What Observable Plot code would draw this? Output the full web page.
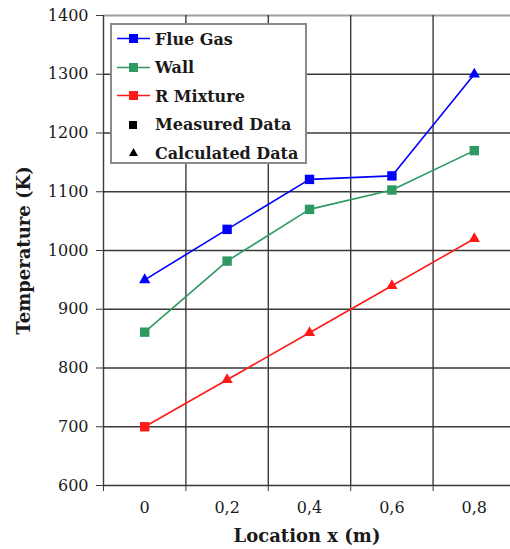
<!DOCTYPE html>
<html>
<head>
<meta charset="utf-8">
<script src="https://cdn.jsdelivr.net/npm/d3@7"></script>
<script src="https://cdn.jsdelivr.net/npm/@observablehq/plot@0.6"></script>
<style>
  html, body { margin: 0; padding: 0; background: white; }
  #wrap { position: relative; width: 510px; height: 549px; overflow: hidden; }
  g[aria-label="x-axis label"] text, g[aria-label="y-axis label"] text { font-weight: bold; font-size: 18px; }
  #legend { position: absolute; left: 110px; top: 23px; width: 193px; height: 137px;
    border: 2px solid #8a8a8a; background: white; font-family: 'DejaVu Serif', serif; font-weight: bold; font-size: 16px; color: #1a1a1a; }
  .item { position: absolute; left: 5px; height: 20px; display: flex; align-items: center; white-space: nowrap; }
  .item svg { margin-right: 5px; }
</style>
</head>
<body>
<div id="wrap"></div>
<script>
// x locations (m)
const locations = [0, 0.2, 0.4, 0.6, 0.8];
// temperatures (K)
const flueGas   = [950, 1036, 1121, 1127, 1300];
const flueKind  = ["calc", "meas", "meas", "meas", "calc"];
const wall      = [861, 982, 1070, 1103, 1170];
const wallKind  = ["meas", "meas", "meas", "meas", "meas"];
const rMixture  = [700, 780, 860, 940, 1020];
const rKind     = ["meas", "calc", "calc", "calc", "calc"];
const seriesNames  = ["Flue Gas", "Wall", "R Mixture"];
const seriesColors = ["#0000ff", "#2e9960", "#ff1a1a"];
const yTicks = [600, 700, 800, 900, 1000, 1100, 1200, 1300, 1400];
const xTickLabels = ["0", "0,2", "0,4", "0,6", "0,8"];

const rows = [];
[[flueGas, flueKind], [wall, wallKind], [rMixture, rKind]].forEach(([vals, kinds], i) => {
  vals.forEach((v, j) => rows.push({series: seriesNames[i], x: locations[j], y: v, kind: kinds[j]}));
});
const step = locations[1] - locations[0];
const bounds = locations.map(v => v - step / 2).concat([locations[locations.length - 1] + step / 2]);

const chart = Plot.plot({
  width: 510, height: 549,
  marginLeft: 103, marginRight: 0, marginTop: 15, marginBottom: 64,
  style: {fontFamily: "'DejaVu Serif', serif", fontSize: "16px", color: "#1a1a1a", background: "white", overflow: "hidden"},
  x: {domain: [bounds[0], bounds[bounds.length - 1]], range: [103, 515]},
  y: {domain: [600, 1400]},
  color: {domain: seriesNames, range: seriesColors},
  marks: [
    Plot.ruleY(yTicks.filter(d => d < 1400), {stroke: "#3a3a3a", strokeWidth: 1.4}),
    Plot.ruleY([1400], {stroke: "#a0a0a0", strokeWidth: 2}),
    Plot.ruleX(bounds, {stroke: "#3a3a3a", strokeWidth: 1.4}),
    Plot.axisY({ticks: yTicks, tickSize: 7, tickPadding: 8, stroke: "#3a3a3a", tickFormat: d => String(d),
      label: "Temperature (K)", labelAnchor: "center", labelArrow: "none", labelOffset: 86}),
    Plot.axisX({ticks: locations, tickSize: 0, tickPadding: 16, tickFormat: (d, i) => xTickLabels[i],
      label: "Location x (m)", labelAnchor: "center", labelArrow: "none", labelOffset: 56}),
    Plot.axisX({ticks: bounds, tickSize: 6, tickFormat: () => "", label: null, stroke: "#3a3a3a"}),
    Plot.line(rows, {x: "x", y: "y", z: "series", stroke: "series", strokeWidth: 1.6}),
    Plot.dot(rows.filter(d => d.kind === "meas"), {x: "x", y: "y", fill: "series", symbol: "square", r: 5.3}),
    Plot.dot(rows.filter(d => d.kind === "calc"), {x: "x", y: "y", fill: "series", symbol: "triangle", r: 4.2})
  ]
});
document.getElementById("wrap").appendChild(chart);

// legend overlay
const legend = document.createElement("div");
legend.id = "legend";
const entries = seriesNames.map((n, i) => ({label: n, color: seriesColors[i], line: true, shape: "square"}))
  .concat([{label: "Measured Data", color: "#000", line: false, shape: "square"},
           {label: "Calculated Data", color: "#000", line: false, shape: "triangle"}]);
entries.forEach((e, i) => {
  const it = document.createElement("div");
  it.className = "item";
  it.style.top = (4 + i * 28.5) + "px";
  const shape = e.shape === "square"
    ? `<rect x="12" y="${e.line ? 5 : 6}" width="${e.line ? 9 : 8}" height="${e.line ? 9 : 8}" fill="${e.color}"/>`
    : `<path d="M16.5,5 L21,13 L12,13 Z" fill="${e.color}"/>`;
  it.innerHTML = `<svg width="33" height="20">${e.line ? `<line x1="0" x2="33" y1="9.5" y2="9.5" stroke="${e.color}" stroke-width="1.6"/>` : ""}${shape}</svg><span>${e.label}</span>`;
  legend.appendChild(it);
});
document.getElementById("wrap").appendChild(legend);
</script>
</body>
</html>
